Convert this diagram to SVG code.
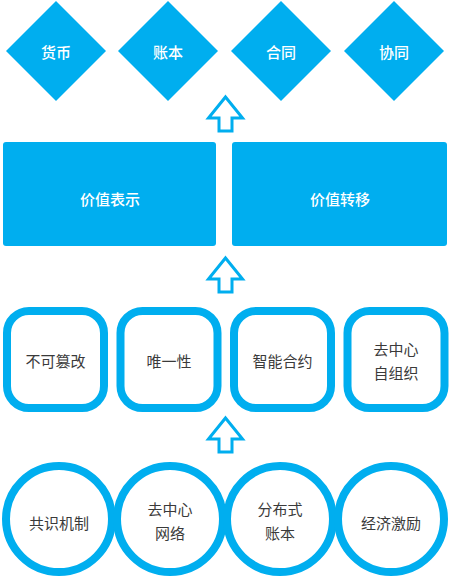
<svg xmlns="http://www.w3.org/2000/svg" width="450" height="579" viewBox="0 0 450 579">
<style>
.fill{fill:#00AEEF}
.box{fill:#fff;stroke:#00AEEF;stroke-width:8}
.arrow{fill:#fff;stroke:#00AEEF;stroke-width:3;stroke-linejoin:miter}
.w{fill:#fff;font-family:"Noto Sans CJK SC","Noto Sans",sans-serif;font-size:15px;font-weight:500;text-anchor:middle;dominant-baseline:central}
.d{fill:#3a3a3a;font-family:"Noto Sans CJK SC","Noto Sans",sans-serif;font-size:15px;text-anchor:middle;dominant-baseline:central}
</style>
<defs>
<path id="up" d="M0,-17 L17,4 L6.5,4 L6.5,17 L-6.5,17 L-6.5,4 L-17,4 Z"/>
</defs>
<rect width="450" height="579" fill="#fff"/>
<g id="connectors">
<use href="#up" class="arrow" x="225.5" y="114"/>
<use href="#up" class="arrow" x="225.5" y="275"/>
<use href="#up" class="arrow" x="225.5" y="435"/>
</g>
<g id="n-huobi"><polygon class="fill" points="56,1 106,51 56,101 6,51"/><text class="w" x="56" y="51">货币</text></g>
<g id="n-zhangben"><polygon class="fill" points="168,1 218,51 168,101 118,51"/><text class="w" x="168" y="51">账本</text></g>
<g id="n-hetong"><polygon class="fill" points="281,1 331,51 281,101 231,51"/><text class="w" x="281" y="51">合同</text></g>
<g id="n-xietong"><polygon class="fill" points="394,1 444,51 394,101 344,51"/><text class="w" x="394" y="51">协同</text></g>
<g id="n-jiazhibiaoshi"><rect class="fill" x="3" y="142" width="213" height="104" rx="3"/><text class="w" x="110" y="198">价值表示</text></g>
<g id="n-jiazhizhuanyi"><rect class="fill" x="232" y="142" width="215" height="104" rx="3"/><text class="w" x="340" y="198">价值转移</text></g>
<g id="n-bukecuangai"><rect class="box" x="7" y="311" width="97" height="97" rx="22"/><text class="d" x="55.5" y="360">不可篡改</text></g>
<g id="n-weiyixing"><rect class="box" x="120.5" y="311" width="97" height="97" rx="22"/><text class="d" x="169" y="360">唯一性</text></g>
<g id="n-zhinengheyue"><rect class="box" x="234" y="311" width="97" height="97" rx="22"/><text class="d" x="282.5" y="360">智能合约</text></g>
<g id="n-quzhongxin1"><rect class="box" x="347.5" y="311" width="97" height="97" rx="22"/><text class="d" x="396" y="348">去中心</text><text class="d" x="396" y="372">自组织</text></g>
<g id="n-gongshi"><circle class="box" cx="59" cy="519" r="53"/><text class="d" x="59" y="522">共识机制</text></g>
<g id="n-quzhongxin2"><circle class="box" cx="170" cy="519" r="53"/><text class="d" x="170" y="508">去中心</text><text class="d" x="170" y="532">网络</text></g>
<g id="n-fenbushi"><circle class="box" cx="280" cy="519" r="53"/><text class="d" x="280" y="508">分布式</text><text class="d" x="280" y="532">账本</text></g>
<g id="n-jingji"><circle class="box" cx="391" cy="519" r="53"/><text class="d" x="391" y="522">经济激励</text></g>
</svg>
